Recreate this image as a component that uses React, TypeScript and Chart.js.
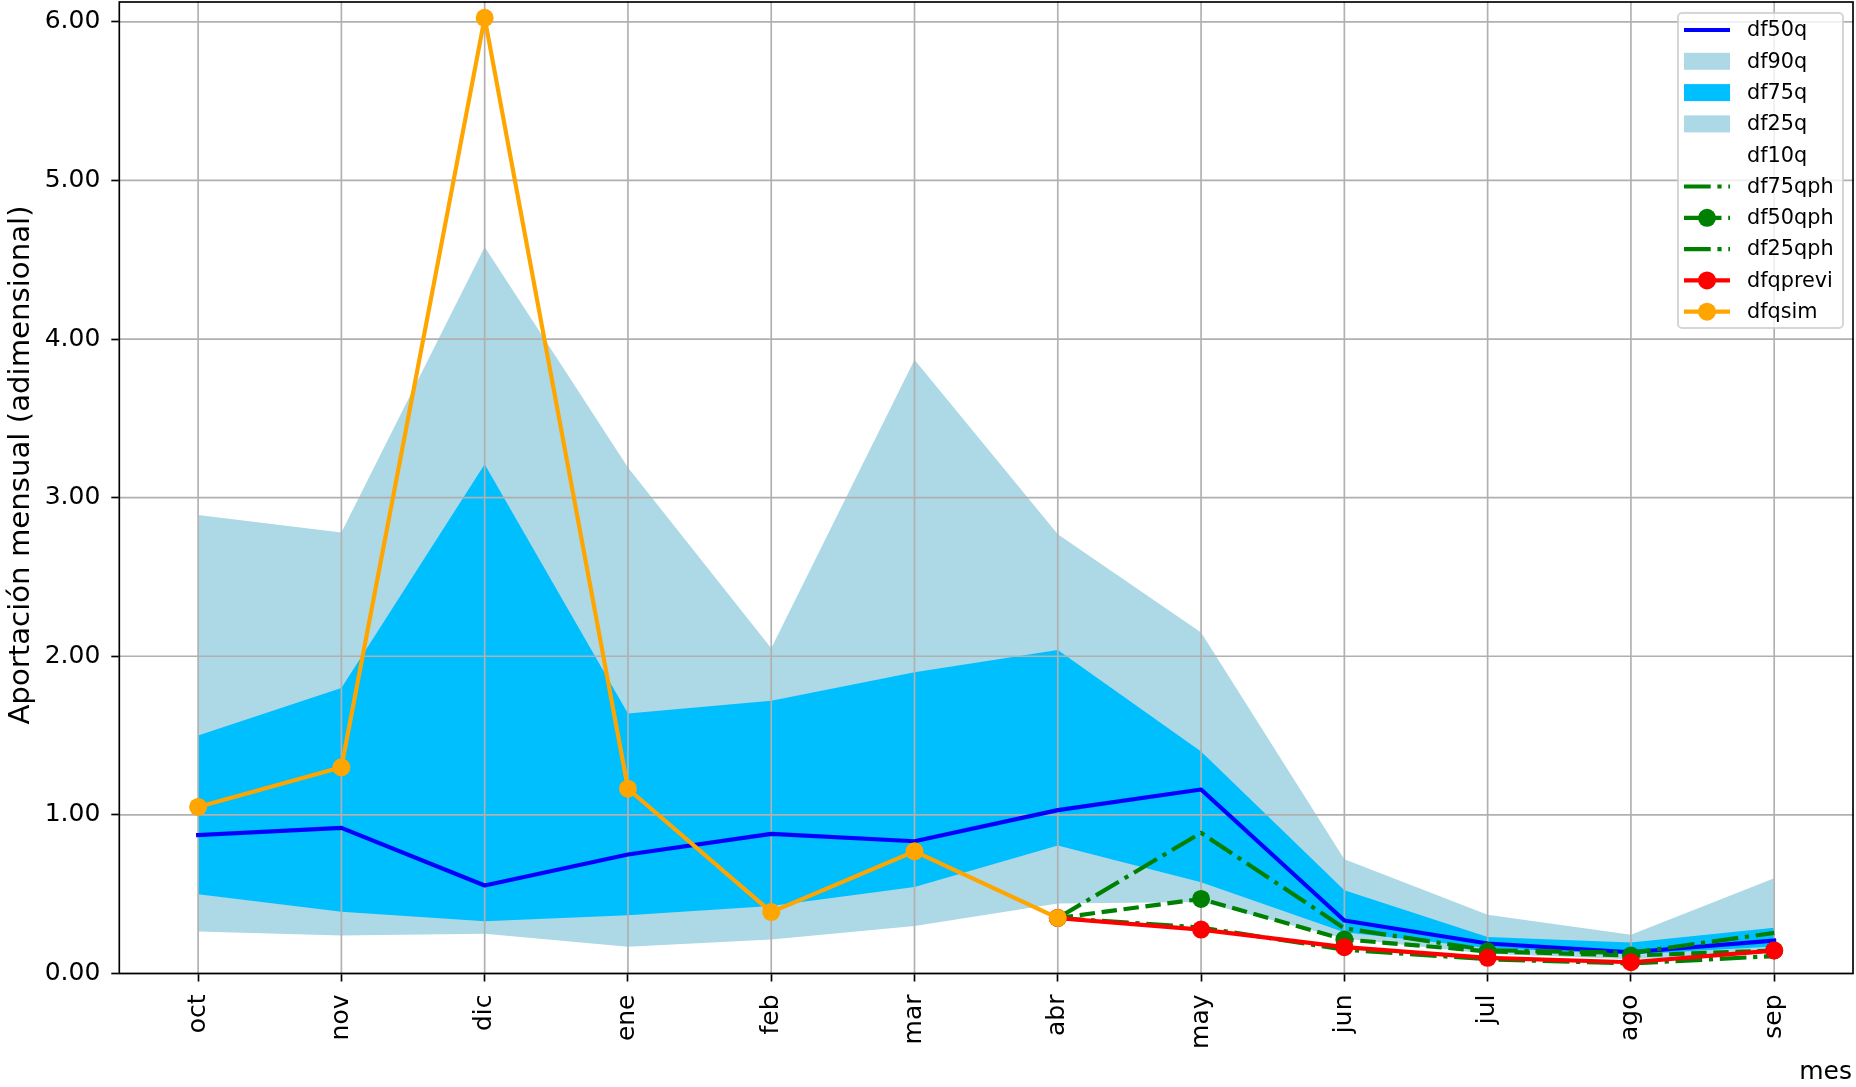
import React, { useEffect, useRef } from 'react';
import { Chart, registerables } from 'chart.js';

Chart.register(...registerables);

// ---------------- data ----------------
const months = ['oct', 'nov', 'dic', 'ene', 'feb', 'mar', 'abr', 'may', 'jun', 'jul', 'ago', 'sep'];
const yTicks = [0, 1, 2, 3, 4, 5, 6];

const df90q = [2.89, 2.78, 4.58, 3.19, 2.05, 3.87, 2.77, 2.15, 0.72, 0.37, 0.245, 0.6];
const df75q = [1.5, 1.8, 3.21, 1.64, 1.72, 1.9, 2.04, 1.4, 0.525, 0.23, 0.195, 0.288];
const df50q = [0.873, 0.918, 0.555, 0.75, 0.88, 0.834, 1.03, 1.16, 0.334, 0.189, 0.134, 0.208];
const df25q = [0.5, 0.39, 0.33, 0.368, 0.425, 0.546, 0.807, 0.575, 0.26, 0.16, 0.12, 0.17];
const df10q = [0.265, 0.24, 0.25, 0.168, 0.214, 0.3, 0.441, 0.45, 0.22, 0.125, 0.09, 0.13];

const df75qph = [null, null, null, null, null, null, 0.35, 0.887, 0.285, 0.147, 0.13, 0.256];
const df50qph = [null, null, null, null, null, null, 0.35, 0.47, 0.215, 0.14, 0.113, 0.145];
const df25qph = [null, null, null, null, null, null, 0.35, 0.29, 0.15, 0.09, 0.063, 0.11];
const dfqprevi = [null, null, null, null, null, null, 0.35, 0.277, 0.166, 0.099, 0.071, 0.145];
const dfqsim = [1.05, 1.3, 6.025, 1.165, 0.387, 0.77, 0.35, null, null, null, null, null];

// ---------------- layout / style ----------------
const W = 1856;
const H = 1087;
const PLOT_LEFT = 119.3;
const PLOT_TOP = 2;
const PLOT_RIGHT = 1853;
const PLOT_BOTTOM = 973.5;
const FONT = "'DejaVu Sans', sans-serif";
const LW = 4.17;
const DASHED = [15.4, 6.7];
const DASHDOT = [26.7, 6.7, 4.2, 6.7];
const MARKER_R = 9;

const C_BLUE = '#0000ff';
const C_LIGHT = '#add8e6';
const C_DEEP = '#00bfff';
const C_GREEN = '#008000';
const C_RED = '#ff0000';
const C_ORANGE = '#ffa500';

const toPoints = (arr: (number | null)[]) => arr.map((v, i) => ({ x: i, y: v }));

type LegendEntry = {
  label: string;
  kind: 'line' | 'patch';
  color: string;
  dash?: number[];
  marker?: boolean;
};

const legendEntries: LegendEntry[] = [
  { label: 'df50q', kind: 'line', color: C_BLUE },
  { label: 'df90q', kind: 'patch', color: C_LIGHT },
  { label: 'df75q', kind: 'patch', color: C_DEEP },
  { label: 'df25q', kind: 'patch', color: C_LIGHT },
  { label: 'df10q', kind: 'patch', color: '#ffffff' },
  { label: 'df75qph', kind: 'line', color: C_GREEN, dash: DASHDOT },
  { label: 'df50qph', kind: 'line', color: C_GREEN, dash: DASHED, marker: true },
  { label: 'df25qph', kind: 'line', color: C_GREEN, dash: DASHDOT },
  { label: 'dfqprevi', kind: 'line', color: C_RED, marker: true },
  { label: 'dfqsim', kind: 'line', color: C_ORANGE, marker: true },
];

function drawLegend(ctx: CanvasRenderingContext2D) {
  const x0 = 1678, y0 = 13, x1 = 1843, y1 = 328, r = 4;
  ctx.save();
  ctx.beginPath();
  ctx.moveTo(x0 + r, y0);
  ctx.lineTo(x1 - r, y0);
  ctx.arcTo(x1, y0, x1, y0 + r, r);
  ctx.lineTo(x1, y1 - r);
  ctx.arcTo(x1, y1, x1 - r, y1, r);
  ctx.lineTo(x0 + r, y1);
  ctx.arcTo(x0, y1, x0, y1 - r, r);
  ctx.lineTo(x0, y0 + r);
  ctx.arcTo(x0, y0, x0 + r, y0, r);
  ctx.closePath();
  ctx.fillStyle = 'rgba(255,255,255,0.8)';
  ctx.fill();
  ctx.strokeStyle = 'rgba(204,204,204,0.8)';
  ctx.lineWidth = 2;
  ctx.stroke();

  const hx0 = 1684, hx1 = 1730;
  legendEntries.forEach((e, i) => {
    const cy = 30 + i * 31.3;
    if (e.kind === 'patch') {
      ctx.fillStyle = e.color;
      ctx.fillRect(hx0, cy - 8.5, hx1 - hx0, 17);
    } else {
      ctx.strokeStyle = e.color;
      ctx.lineWidth = LW;
      ctx.setLineDash(e.dash || []);
      ctx.lineCap = 'butt';
      ctx.beginPath();
      ctx.moveTo(hx0, cy);
      ctx.lineTo(hx1, cy);
      ctx.stroke();
      ctx.setLineDash([]);
      if (e.marker) {
        ctx.fillStyle = e.color;
        ctx.beginPath();
        ctx.arc((hx0 + hx1) / 2, cy, MARKER_R, 0, Math.PI * 2);
        ctx.fill();
      }
    }
    ctx.fillStyle = '#000000';
    ctx.font = `20.8px ${FONT}`;
    ctx.textAlign = 'left';
    ctx.textBaseline = 'middle';
    ctx.fillText(e.label, 1747, cy + 1);
  });
  ctx.restore();
}

const mplPlugin = {
  id: 'mplStyle',
  beforeDatasetsDraw(chart: any) {
    const { ctx, chartArea, scales } = chart;
    ctx.save();
    ctx.strokeStyle = '#b0b0b0';
    ctx.lineWidth = 1.67;
    ctx.lineCap = 'square';
    months.forEach((_, i) => {
      const x = scales.x.getPixelForValue(i);
      ctx.beginPath();
      ctx.moveTo(x, chartArea.top);
      ctx.lineTo(x, chartArea.bottom);
      ctx.stroke();
    });
    yTicks.forEach((v) => {
      const y = scales.y.getPixelForValue(v);
      ctx.beginPath();
      ctx.moveTo(chartArea.left, y);
      ctx.lineTo(chartArea.right, y);
      ctx.stroke();
    });
    ctx.restore();
  },
  afterDatasetsDraw(chart: any) {
    const { ctx, chartArea } = chart;
    ctx.save();
    ctx.strokeStyle = '#000000';
    ctx.lineWidth = 1.67;
    ctx.lineJoin = 'miter';
    ctx.strokeRect(chartArea.left, chartArea.top, chartArea.right - chartArea.left, chartArea.bottom - chartArea.top);
    ctx.restore();
  },
  afterDraw(chart: any) {
    const { ctx } = chart;
    drawLegend(ctx);
    ctx.save();
    ctx.fillStyle = '#000000';
    // y axis title
    ctx.font = `29.2px ${FONT}`;
    ctx.translate(29, 465);
    ctx.rotate(-Math.PI / 2);
    ctx.textAlign = 'center';
    ctx.textBaseline = 'alphabetic';
    ctx.fillText('Aportación mensual (adimensional)', 0, 0);
    ctx.restore();
    ctx.save();
    ctx.fillStyle = '#000000';
    ctx.font = `25px ${FONT}`;
    ctx.textAlign = 'right';
    ctx.textBaseline = 'alphabetic';
    ctx.fillText('mes', 1852, 1079);
    ctx.restore();
  },
};

function fillDataset(label: string, data: number[], color: string, order: number) {
  return {
    label,
    data: toPoints(data),
    fill: 'origin',
    backgroundColor: color,
    borderColor: 'rgba(0,0,0,0)',
    borderWidth: 0,
    pointRadius: 0,
    order,
  };
}

function lineDataset(label: string, data: (number | null)[], color: string, order: number, dash: number[] = [], marker = false) {
  return {
    label,
    data: toPoints(data),
    fill: false,
    borderColor: color,
    backgroundColor: color,
    borderWidth: LW,
    borderDash: dash,
    borderCapStyle: dash.length ? 'butt' : 'square',
    borderJoinStyle: 'round',
    pointRadius: marker ? MARKER_R : 0,
    pointBorderWidth: 0,
    pointBackgroundColor: color,
    pointBorderColor: color,
    tension: 0,
    spanGaps: false,
    order,
  };
}

export default function App() {
  const canvasRef = useRef<HTMLCanvasElement | null>(null);

  useEffect(() => {
    document.body.style.margin = '0';
    const canvas = canvasRef.current;
    if (!canvas) return;
    Chart.defaults.font.family = FONT;
    const chart = new Chart(canvas, {
      type: 'line',
      data: {
        datasets: [
          lineDataset('dfqsim', dfqsim, C_ORANGE, -10, [], true),
          lineDataset('dfqprevi', dfqprevi, C_RED, -9, [], true),
          lineDataset('df25qph', df25qph, C_GREEN, -8, DASHDOT),
          lineDataset('df50qph', df50qph, C_GREEN, -7, DASHED, true),
          lineDataset('df75qph', df75qph, C_GREEN, -6, DASHDOT),
          lineDataset('df50q', df50q, C_BLUE, -5),
          fillDataset('df10q', df10q, '#ffffff', 1),
          fillDataset('df25q', df25q, C_LIGHT, 2),
          fillDataset('df75q', df75q, C_DEEP, 3),
          fillDataset('df90q', df90q, C_LIGHT, 4),
        ] as any,
      },
      options: {
        animation: false,
        responsive: false,
        devicePixelRatio: 1,
        events: [],
        layout: { autoPadding: false, padding: { left: 0, top: PLOT_TOP, right: W - PLOT_RIGHT, bottom: 0 } },
        plugins: {
          legend: { display: false },
          tooltip: { enabled: false },
          filler: { drawTime: 'beforeDatasetsDraw', propagate: false },
        } as any,
        scales: {
          x: {
            type: 'linear',
            min: -0.55,
            max: 11.55,
            bounds: 'data',
            afterBuildTicks: (axis: any) => {
              axis.ticks = months.map((_, i) => ({ value: i }));
            },
            afterFit: (scale: any) => {
              scale.height = H - PLOT_BOTTOM;
              scale.paddingLeft = 0;
              scale.paddingRight = 0;
            },
            ticks: {
              callback: (v: any) => months[Math.round(Number(v))] ?? '',
              minRotation: 90,
              maxRotation: 90,
              autoSkip: false,
              padding: 13,
              color: '#000000',
              font: { size: 25, family: FONT },
            },
            grid: {
              drawOnChartArea: false,
              drawTicks: true,
              tickLength: 8,
              tickColor: '#000000',
              tickWidth: 1.67,
            },
            border: { display: false },
          },
          y: {
            type: 'linear',
            min: 0,
            max: 6.125,
            bounds: 'data',
            afterBuildTicks: (axis: any) => {
              axis.ticks = yTicks.map((v) => ({ value: v }));
            },
            afterFit: (scale: any) => {
              scale.width = PLOT_LEFT;
              scale.paddingTop = 0;
              scale.paddingBottom = 0;
            },
            ticks: {
              callback: (v: any) => Number(v).toFixed(2),
              padding: 11,
              color: '#000000',
              font: { size: 25, family: FONT },
            },
            grid: {
              drawOnChartArea: false,
              drawTicks: true,
              tickLength: 8,
              tickColor: '#000000',
              tickWidth: 1.67,
            },
            border: { display: false },
          },
        },
      } as any,
      plugins: [mplPlugin as any],
    });
    return () => chart.destroy();
  }, []);

  return (
    <div style={{ position: 'absolute', left: 0, top: 0, width: W, height: H, background: '#ffffff' }}>
      <canvas ref={canvasRef} width={W} height={H} style={{ width: W, height: H, display: 'block' }} />
    </div>
  );
}
